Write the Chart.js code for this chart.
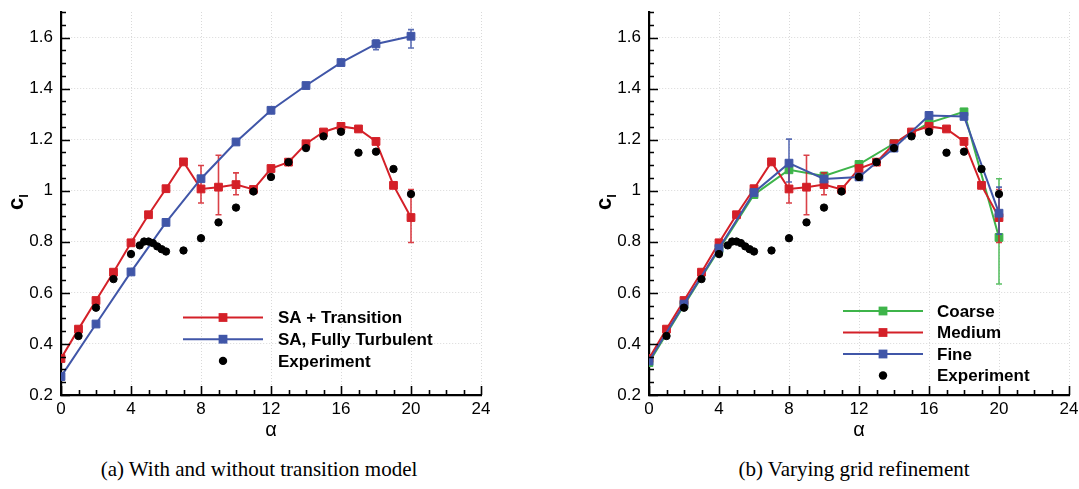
<!DOCTYPE html>
<html><head><meta charset="utf-8">
<script src="https://cdn.jsdelivr.net/npm/chart.js@4.4.1/dist/chart.umd.min.js"></script>
<style>
html,body{margin:0;padding:0;background:#fff;}
#wrap{position:relative;width:1079px;height:489px;overflow:hidden;font-family:"Liberation Sans",Arial,sans-serif;}
canvas{position:absolute;top:0;}
.ytitle{position:absolute;font-weight:bold;font-size:22px;line-height:1;transform:translate(-50%,-50%) rotate(-90deg);white-space:nowrap;color:#000;}
.ytitle sub{font-size:13px;vertical-align:-5px;}
.cap{position:absolute;top:457px;font-family:"Liberation Serif","DejaVu Serif",serif;font-size:21px;transform:translateX(-50%);white-space:nowrap;color:#000;}
</style></head>
<body>
<div id="wrap">
  <canvas id="cA" width="540" height="450" style="left:0px"></canvas>
  <canvas id="cB" width="539" height="450" style="left:540px"></canvas>
  <div class="ytitle" style="left:17px;top:202px">c<sub>l</sub></div>
  <div class="ytitle" style="left:605px;top:202px">c<sub>l</sub></div>
  <div class="cap" style="left:259px">(a) With and without transition model</div>
  <div class="cap" style="left:854px">(b) Varying grid refinement</div>
</div>
<script>
// ---------- data ----------
const alphaInt  = [0,1,2,3,4,5,6,7,8,9,10,11,12,13,14,15,16,17,18,19,20];
const alphaEven = [0,2,4,6,8,10,12,14,16,18,20];

const saTransition = [0.343,0.458,0.570,0.681,0.796,0.906,1.008,1.113,1.007,1.014,1.024,1.005,1.087,1.112,1.184,1.230,1.252,1.242,1.193,1.021,0.895];
const saTransErrAlpha = [8,9,10,20];
const saTransErrLo    = [0.952,0.906,0.984,0.797];
const saTransErrHi    = [1.099,1.139,1.070,1.005];

const saTurbulent = [0.272,0.478,0.682,0.876,1.047,1.191,1.315,1.412,1.502,1.575,1.605];
const saTurbErrAlpha = [18,20];
const saTurbErrLo    = [1.552,1.559];
const saTurbErrHi    = [1.590,1.631];

const expAlpha = [1,2,3,4,4.5,4.75,5,5.25,5.5,5.75,6,7,8,9,10,11,12,13,14,15,16,17,18,19,20];
const expCl    = [0.431,0.542,0.654,0.752,0.786,0.801,0.801,0.795,0.782,0.771,0.762,0.766,0.814,0.876,0.934,0.997,1.054,1.112,1.167,1.213,1.231,1.149,1.153,1.085,0.987];

const coarse = [0.327,0.552,0.770,0.985,1.082,1.058,1.103,1.185,1.266,1.309,0.817];
const coarseErrAlpha = [20];
const coarseErrLo    = [0.635];
const coarseErrHi    = [1.047];

const medium = saTransition;
const mediumErrAlpha = saTransErrAlpha;
const mediumErrLo    = saTransErrLo;
const mediumErrHi    = saTransErrHi;

const fine = [0.333,0.556,0.775,0.993,1.108,1.046,1.054,1.167,1.295,1.291,0.912];
const fineErrAlpha = [8,20];
const fineErrLo    = [1.034,0.830];
const fineErrHi    = [1.202,1.014];

const xTicks = [0,4,8,12,16,20,24];
const yTicks = [0.2,0.4,0.6,0.8,1.0,1.2,1.4,1.6];

// ---------- styles ----------
const RED = 'rgb(212,32,40)', BLUE = 'rgb(64,86,168)', GREEN = 'rgb(62,180,74)';
const FONT = '"Liberation Sans", Arial, Helvetica, sans-serif';
Chart.defaults.font.family = FONT;
Chart.defaults.color = '#000';

const pts = (xs, ys) => xs.map((x, i) => ({x, y: ys[i]}));
const errs = (xs, lo, hi) => xs.map((x, i) => ({x, lo: lo[i], hi: hi[i]}));

function series(label, xs, ys, color, order, eb) {
  return {label, data: pts(xs, ys), borderColor: color, backgroundColor: color,
    borderWidth: 2, pointStyle: 'rect', pointRadius: 5.5, pointHoverRadius: 5.5,
    pointBorderWidth: 1, pointBorderColor: color, pointBackgroundColor: color,
    showLine: true, tension: 0, order, errorBars: eb || []};
}
function expSeries(order) {
  return {label: 'Experiment', data: pts(expAlpha, expCl), showLine: false,
    pointStyle: 'circle', pointRadius: 3.7, pointBorderWidth: 1,
    pointBackgroundColor: '#000', pointBorderColor: '#000', borderColor: '#000', backgroundColor: '#000', order, errorBars: []};
}

// ---------- plugins ----------
const errorBarPlugin = {
  id: 'errorBars',
  afterDatasetDraw(chart, args) {
    const ds = chart.data.datasets[args.index];
    if (!ds.errorBars || !ds.errorBars.length) return;
    const {ctx, scales: {x, y}} = chart;
    ctx.save();
    ctx.strokeStyle = ds.borderColor; ctx.lineWidth = 1.6; ctx.globalAlpha = 0.85;
    ds.errorBars.forEach(e => {
      const px = x.getPixelForValue(e.x), p1 = y.getPixelForValue(e.lo), p2 = y.getPixelForValue(e.hi);
      ctx.beginPath();
      ctx.moveTo(px, p1); ctx.lineTo(px, p2);
      ctx.moveTo(px - 3, p1); ctx.lineTo(px + 3, p1);
      ctx.moveTo(px - 3, p2); ctx.lineTo(px + 3, p2);
      ctx.stroke();
    });
    ctx.restore();
  }
};

const inwardTicks = {
  id: 'inwardTicks',
  afterDraw(chart) {
    const {ctx, chartArea: {left, bottom}, scales: {x, y}} = chart;
    ctx.save(); ctx.strokeStyle = '#000'; ctx.lineWidth = 1.6;
    ctx.beginPath();
    for (let v = 0; v <= 24; v++) {
      const px = Math.round(x.getPixelForValue(v)) + 0.5, len = v % 4 === 0 ? 9 : 5;
      ctx.moveTo(px, bottom); ctx.lineTo(px, bottom - len);
    }
    for (let i = 0; i <= 30; i++) {
      const py = Math.round(y.getPixelForValue(0.2 + i * 0.05)) + 0.5, len = i % 4 === 0 ? 9 : 5;
      ctx.moveTo(left, py); ctx.lineTo(left + len, py);
    }
    ctx.stroke(); ctx.restore();
  }
};

const customLegend = {
  id: 'customLegend',
  afterDraw(chart, args, opts) {
    if (!opts || !opts.rows) return;
    const {ctx, chartArea: {left}} = chart;
    const dsByLabel = {};
    chart.data.datasets.forEach(d => dsByLabel[d.label] = d);
    ctx.save();
    ctx.font = 'bold 17px ' + FONT; ctx.textBaseline = 'middle'; ctx.fillStyle = '#000';
    opts.rows.forEach((lab, i) => {
      const d = dsByLabel[lab];
      const yy = opts.y + i * opts.dy;
      const x0 = left + opts.lineX0, x1 = left + opts.lineX1, xm = (x0 + x1) / 2;
      if (d.showLine) {
        ctx.strokeStyle = d.borderColor; ctx.lineWidth = 2;
        ctx.beginPath(); ctx.moveTo(x0, yy); ctx.lineTo(x1, yy); ctx.stroke();
        ctx.fillStyle = d.borderColor; ctx.fillRect(xm - 4.4, yy - 4.4, 8.8, 8.8);
      } else {
        ctx.fillStyle = '#000'; ctx.beginPath(); ctx.arc(xm, yy, 4.2, 0, Math.PI * 2); ctx.fill();
      }
      ctx.fillStyle = '#000';
      ctx.fillText(lab, left + opts.textX, yy + 1);
    });
    ctx.restore();
  }
};

function zeroPad(s) { s.paddingTop = 0; s.paddingBottom = 0; s.paddingLeft = 0; s.paddingRight = 0; }

function makeChart(id, datasets, yWidth, rightPad, legend) {
  return new Chart(document.getElementById(id), {
    type: 'line',
    data: {datasets},
    plugins: [errorBarPlugin, inwardTicks, customLegend],
    options: {
      responsive: false, animation: false, devicePixelRatio: 1,
      layout: {padding: {top: 12, right: rightPad, left: 0, bottom: 0}},
      plugins: {legend: {display: false}, tooltip: {enabled: false}, customLegend: legend},
      scales: {
        x: {type: 'linear', min: 0, max: 24,
          afterBuildTicks: s => { s.ticks = xTicks.map(v => ({value: v})); },
          afterFit: s => { s.height = 450 - 395; zeroPad(s); },
          grid: {color: '#d9d9d9', lineWidth: 1, drawTicks: false},
          border: {display: true, color: '#000', width: 2.2, dash: [1, 2]},
          ticks: {font: {size: 17}, padding: 4, color: '#000', maxRotation: 0,
            callback: v => String(v)},
          title: {display: true, text: 'α', font: {size: 20}, color: '#000', padding: {top: 0, bottom: 8}}
        },
        y: {type: 'linear', min: 0.2, max: 1.7,
          afterBuildTicks: s => { s.ticks = yTicks.map(v => ({value: v})); },
          afterFit: s => { s.width = yWidth; zeroPad(s); },
          grid: {color: '#d9d9d9', lineWidth: 1, drawTicks: false},
          border: {display: true, color: '#000', width: 2.2, dash: [1, 2]},
          ticks: {font: {size: 17}, padding: 8, color: '#000',
            callback: v => String(Math.round(v * 10) / 10)}
        }
      }
    }
  });
}

makeChart('cA', [
  expSeries(0),
  series('SA, Fully Turbulent', alphaEven, saTurbulent, BLUE, 1, errs(saTurbErrAlpha, saTurbErrLo, saTurbErrHi)),
  series('SA + Transition', alphaInt, saTransition, RED, 2, errs(saTransErrAlpha, saTransErrLo, saTransErrHi))
], 61, 59, {rows: ['SA + Transition', 'SA, Fully Turbulent', 'Experiment'], y: 317.5, dy: 21.7, lineX0: 122, lineX1: 202, textX: 217});

makeChart('cB', [
  expSeries(0),
  series('Fine', alphaEven, fine, BLUE, 1, errs(fineErrAlpha, fineErrLo, fineErrHi)),
  series('Medium', alphaInt, medium, RED, 2, errs(mediumErrAlpha, mediumErrLo, mediumErrHi)),
  series('Coarse', alphaEven, coarse, GREEN, 3, errs(coarseErrAlpha, coarseErrLo, coarseErrHi))
], 109, 10, {rows: ['Coarse', 'Medium', 'Fine', 'Experiment'], y: 311, dy: 21.5, lineX0: 194, lineX1: 274, textX: 288});
</script>
</body></html>
